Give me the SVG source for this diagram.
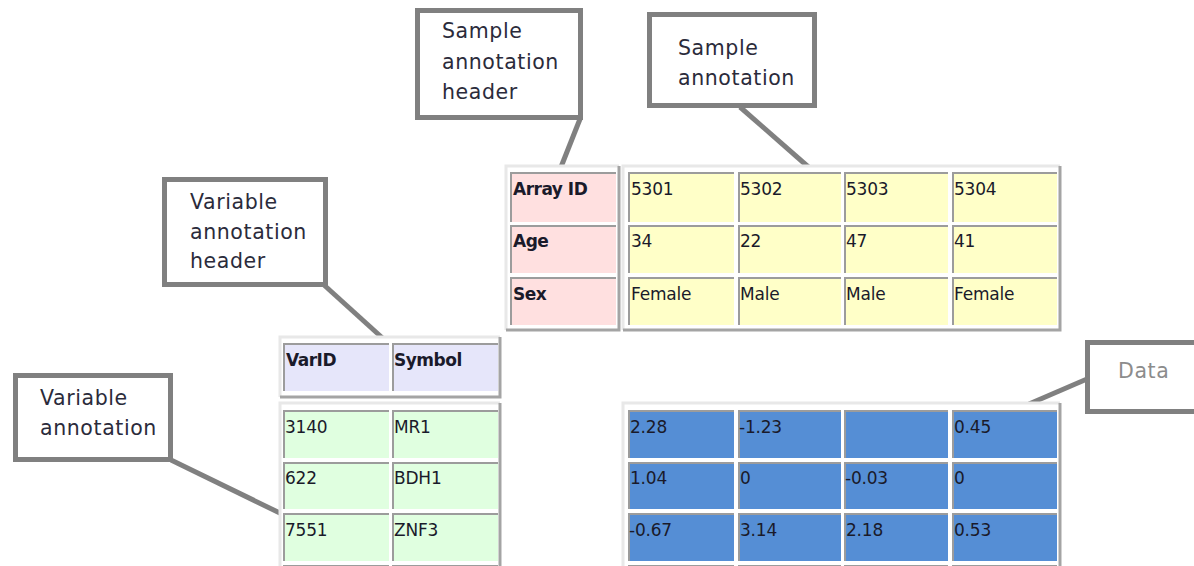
<svg xmlns="http://www.w3.org/2000/svg" width="1194" height="566" viewBox="0 0 1194 566">
<style>
.bg{fill:#ffffff}
.call{fill:#ffffff;stroke:#808080;stroke-width:5}
.ct{font-family:"DejaVu Sans","Verdana",sans-serif;font-size:20.5px;letter-spacing:0.6px;fill:#2b2b3b}
.dt{font-family:"DejaVu Sans","Verdana",sans-serif;font-size:20.5px;letter-spacing:0.6px;fill:#8c8c8c}
.lk{fill:none;stroke:#808080;stroke-width:5}
.olt{fill:none;stroke:#e8e8e8;stroke-width:3}
.odk{fill:none;stroke:#a4a4a4;stroke-width:3}
.in{fill:none;stroke:#9c9c9c;stroke-width:2}
.pk{fill:#ffe0e0}
.yl{fill:#ffffc8}
.lv{fill:#e6e6fa}
.gr{fill:#e0ffe0}
.bl{fill:#558ed5}
.h{font-family:"DejaVu Sans",sans-serif;font-size:17px;font-weight:bold;letter-spacing:-0.5px;fill:#1a1a2a}
.v{font-family:"DejaVu Sans",sans-serif;font-size:17px;letter-spacing:-0.2px;fill:#1a1a2a}
</style>
<rect class="bg" x="0" y="0" width="1194" height="566"/>

<g id="connectors">
<line class="lk" x1="580" y1="119" x2="559" y2="172"/>
<line class="lk" x1="740" y1="107" x2="813" y2="171"/>
<line class="lk" x1="324" y1="285" x2="388" y2="343"/>
<line class="lk" x1="171" y1="460" x2="286" y2="516"/>
<line class="lk" x1="1087" y1="379" x2="1029" y2="404"/>
</g>

<g id="sample-header-table">
<rect class="bg" x="506" y="166" width="113" height="164"/>
<path class="olt" d="M506 330 V166 H619"/>
<path class="odk" d="M619 166 V330 H506"/>
<rect class="pk" x="510" y="172" width="106" height="50"/><path class="in" d="M511 222 V173 H616"/>
<rect class="pk" x="510" y="225" width="106" height="48"/><path class="in" d="M511 273 V226 H616"/>
<rect class="pk" x="510" y="277" width="106" height="48"/><path class="in" d="M511 325 V278 H616"/>
<text class="h" x="513" y="195">Array ID</text>
<text class="h" x="513" y="247">Age</text>
<text class="h" x="513" y="300">Sex</text>
</g>

<g id="sample-annotation-table">
<rect class="bg" x="623" y="166" width="437" height="164"/>
<path class="olt" d="M623 330 V166 H1060"/>
<path class="odk" d="M1060 166 V330 H623"/>
<rect class="yl" x="628" y="172" width="106" height="50"/><path class="in" d="M629 222 V173 H734"/>
<rect class="yl" x="738" y="172" width="103" height="50"/><path class="in" d="M739 222 V173 H841"/>
<rect class="yl" x="844" y="172" width="104" height="50"/><path class="in" d="M845 222 V173 H948"/>
<rect class="yl" x="952" y="172" width="105" height="50"/><path class="in" d="M953 222 V173 H1057"/>
<rect class="yl" x="628" y="225" width="106" height="48"/><path class="in" d="M629 273 V226 H734"/>
<rect class="yl" x="738" y="225" width="103" height="48"/><path class="in" d="M739 273 V226 H841"/>
<rect class="yl" x="844" y="225" width="104" height="48"/><path class="in" d="M845 273 V226 H948"/>
<rect class="yl" x="952" y="225" width="105" height="48"/><path class="in" d="M953 273 V226 H1057"/>
<rect class="yl" x="628" y="277" width="106" height="48"/><path class="in" d="M629 325 V278 H734"/>
<rect class="yl" x="738" y="277" width="103" height="48"/><path class="in" d="M739 325 V278 H841"/>
<rect class="yl" x="844" y="277" width="104" height="48"/><path class="in" d="M845 325 V278 H948"/>
<rect class="yl" x="952" y="277" width="105" height="48"/><path class="in" d="M953 325 V278 H1057"/>
<text class="v" x="631" y="195">5301</text>
<text class="v" x="740" y="195">5302</text>
<text class="v" x="846" y="195">5303</text>
<text class="v" x="954" y="195">5304</text>
<text class="v" x="631" y="247">34</text>
<text class="v" x="740" y="247">22</text>
<text class="v" x="846" y="247">47</text>
<text class="v" x="954" y="247">41</text>
<text class="v" x="631" y="300">Female</text>
<text class="v" x="740" y="300">Male</text>
<text class="v" x="846" y="300">Male</text>
<text class="v" x="954" y="300">Female</text>
</g>

<g id="variable-header-table">
<rect class="bg" x="280" y="337" width="220" height="60"/>
<path class="olt" d="M280 397 V337 H500"/>
<path class="odk" d="M500 337 V397 H280"/>
<rect class="lv" x="283" y="343" width="106" height="48"/><path class="in" d="M284 391 V344 H389"/>
<rect class="lv" x="392" y="343" width="106" height="48"/><path class="in" d="M393 391 V344 H498"/>
<text class="h" x="286" y="366">VarID</text>
<text class="h" x="394" y="366">Symbol</text>
</g>

<g id="variable-annotation-table">
<rect class="bg" x="280" y="403" width="220" height="170"/>
<path class="olt" d="M280 573 V403 H500"/>
<path class="odk" d="M500 403 V573"/>
<rect class="gr" x="283" y="410" width="106" height="48"/><path class="in" d="M284 458 V411 H389"/>
<rect class="gr" x="392" y="410" width="106" height="48"/><path class="in" d="M393 458 V411 H498"/>
<rect class="gr" x="283" y="462" width="106" height="47"/><path class="in" d="M284 509 V463 H389"/>
<rect class="gr" x="392" y="462" width="106" height="47"/><path class="in" d="M393 509 V463 H498"/>
<rect class="gr" x="283" y="513" width="106" height="48"/><path class="in" d="M284 561 V514 H389"/>
<rect class="gr" x="392" y="513" width="106" height="48"/><path class="in" d="M393 561 V514 H498"/>
<rect class="gr" x="283" y="565" width="106" height="10"/><path class="in" d="M284 575 V566 H389"/>
<rect class="gr" x="392" y="565" width="106" height="10"/><path class="in" d="M393 575 V566 H498"/>
<text class="v" x="285" y="433">3140</text>
<text class="v" x="394" y="433">MR1</text>
<text class="v" x="285" y="484">622</text>
<text class="v" x="394" y="484">BDH1</text>
<text class="v" x="285" y="536">7551</text>
<text class="v" x="394" y="536">ZNF3</text>
</g>

<g id="data-table">
<rect class="bg" x="623" y="403" width="437" height="170"/>
<path class="olt" d="M623 573 V403 H1060"/>
<path class="odk" d="M1060 403 V573"/>
<rect class="bl" x="628" y="410" width="106" height="48"/><path class="in" d="M629 458 V411 H734"/>
<rect class="bl" x="738" y="410" width="103" height="48"/><path class="in" d="M739 458 V411 H841"/>
<rect class="bl" x="844" y="410" width="104" height="48"/><path class="in" d="M845 458 V411 H948"/>
<rect class="bl" x="952" y="410" width="105" height="48"/><path class="in" d="M953 458 V411 H1057"/>
<rect class="bl" x="628" y="462" width="106" height="47"/><path class="in" d="M629 509 V463 H734"/>
<rect class="bl" x="738" y="462" width="103" height="47"/><path class="in" d="M739 509 V463 H841"/>
<rect class="bl" x="844" y="462" width="104" height="47"/><path class="in" d="M845 509 V463 H948"/>
<rect class="bl" x="952" y="462" width="105" height="47"/><path class="in" d="M953 509 V463 H1057"/>
<rect class="bl" x="628" y="513" width="106" height="48"/><path class="in" d="M629 561 V514 H734"/>
<rect class="bl" x="738" y="513" width="103" height="48"/><path class="in" d="M739 561 V514 H841"/>
<rect class="bl" x="844" y="513" width="104" height="48"/><path class="in" d="M845 561 V514 H948"/>
<rect class="bl" x="952" y="513" width="105" height="48"/><path class="in" d="M953 561 V514 H1057"/>
<rect class="bl" x="628" y="565" width="106" height="10"/><path class="in" d="M629 575 V566 H734"/>
<rect class="bl" x="738" y="565" width="103" height="10"/><path class="in" d="M739 575 V566 H841"/>
<rect class="bl" x="844" y="565" width="104" height="10"/><path class="in" d="M845 575 V566 H948"/>
<rect class="bl" x="952" y="565" width="105" height="10"/><path class="in" d="M953 575 V566 H1057"/>
<text class="v" x="630" y="433">2.28</text>
<text class="v" x="739" y="433">-1.23</text>
<text class="v" x="954" y="433">0.45</text>
<text class="v" x="630" y="484">1.04</text>
<text class="v" x="740" y="484">0</text>
<text class="v" x="845" y="484">-0.03</text>
<text class="v" x="954" y="484">0</text>
<text class="v" x="629" y="536">-0.67</text>
<text class="v" x="740" y="536">3.14</text>
<text class="v" x="846" y="536">2.18</text>
<text class="v" x="954" y="536">0.53</text>
</g>

<g id="callout-sample-annotation-header">
<rect class="call" x="417.5" y="10.5" width="163" height="107"/>
<text class="ct" x="442" y="38">Sample</text>
<text class="ct" x="442" y="69">annotation</text>
<text class="ct" x="442" y="99">header</text>
</g>

<g id="callout-sample-annotation">
<rect class="call" x="649.5" y="14.5" width="165" height="91"/>
<text class="ct" x="678" y="55">Sample</text>
<text class="ct" x="678" y="85">annotation</text>
</g>

<g id="callout-variable-annotation-header">
<rect class="call" x="164.5" y="179.5" width="161" height="105"/>
<text class="ct" x="190" y="209">Variable</text>
<text class="ct" x="190" y="239">annotation</text>
<text class="ct" x="190" y="268">header</text>
</g>

<g id="callout-variable-annotation">
<rect class="call" x="15.5" y="375.5" width="155" height="84"/>
<text class="ct" x="40" y="405">Variable</text>
<text class="ct" x="40" y="435">annotation</text>
</g>

<g id="callout-data">
<rect class="call" x="1087.5" y="342.5" width="130" height="69"/>
<text class="dt" x="1118" y="378">Data</text>
</g>
</svg>
